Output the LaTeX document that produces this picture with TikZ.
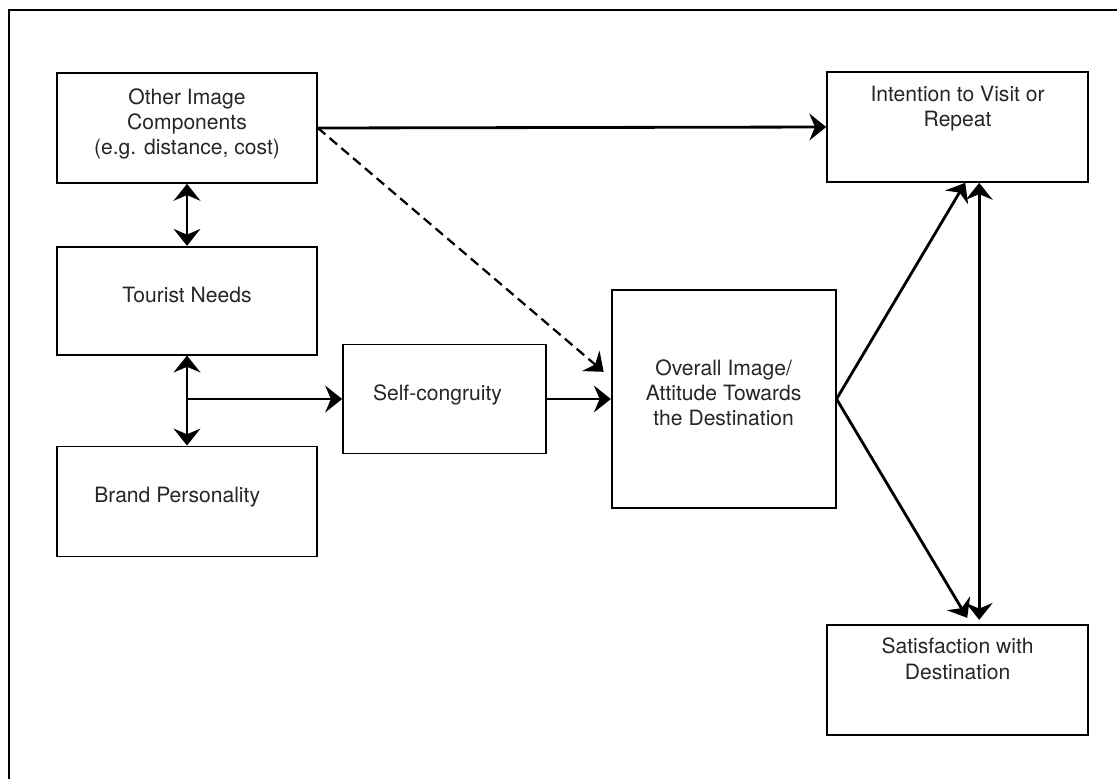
\documentclass[tikz,border=0pt]{standalone}
\usepackage{fontspec}
\setmainfont{TeX Gyre Heros}
\usetikzlibrary{positioning,arrows.meta,calc}
\definecolor{ink}{HTML}{262626}

\begin{document}
\begin{tikzpicture}[
  box/.style={draw, line width=1.2pt, minimum width=6.5cm, minimum height=2.75cm,
              align=center, text=ink, font=\fontsize{15}{17.8}\selectfont, inner sep=2pt,
              text depth=9pt},
  topbox/.style={box, minimum width=6.525cm, text depth=30pt},
  tip/.tip={Stealth[length=12pt, width=19pt, inset=4pt]},
  arr/.style={-tip, line width=2pt},
  both/.style={tip-tip, line width=2pt},
  hint/.style={-tip, line width=1.6pt, dash pattern=on 7pt off 4pt}]
\useasboundingbox (0,0) rectangle (27.925,-19.475);
\draw[line width=1.2pt] (0.225,-19.475) |- (27.925,-0.25);
% left column
\node[box] (other) at (4.675,-3.2) {Other Image\\Components\\(e.g. distance, cost)};
\node[box, minimum height=2.7cm, below=1.55cm of other] (tourist) {Tourist Needs};
\node[box, below=2.25cm of tourist] (brand) {Brand Personality\hspace*{14pt}};
% middle
\node[box, minimum width=5.075cm, minimum height=2.725cm] (self) at (11.1125,-9.975)
  {Self-congruity\hspace*{10pt}};
\node[box, minimum width=5.6cm, minimum height=5.45cm, right=1.6cm of self] (overall)
  {Overall Image/\\Attitude Towards\\the Destination};
% right column
\node[topbox] (intent) at (23.94,-3.175) {Intention to Visit or\\Repeat};
\node[topbox, below=11.025cm of intent] (satis) {Satisfaction with\\Destination};
\draw[both] (other.south) -- (tourist.north);
\draw[both] (tourist.south) -- (brand.north);
\draw[arr] (tourist.south |- self.west) -- (self.west);
\draw[arr] (self.east) -- (overall.west);
\draw[arr] (other.east) -- (intent.west);
\draw[hint] (other.east) -- ($(overall.west)+(-0.18,0.68)$);
\draw[arr] (overall.east) -- ($(intent.south)+(0.19,0)$);
\draw[arr] (overall.east) -- ($(satis.north)+(0.24,0.15)$);
\draw[both] ($(intent.south)+(0.54,0)$) -- ($(satis.north)+(0.54,0.1)$);
\end{tikzpicture}
\end{document}
